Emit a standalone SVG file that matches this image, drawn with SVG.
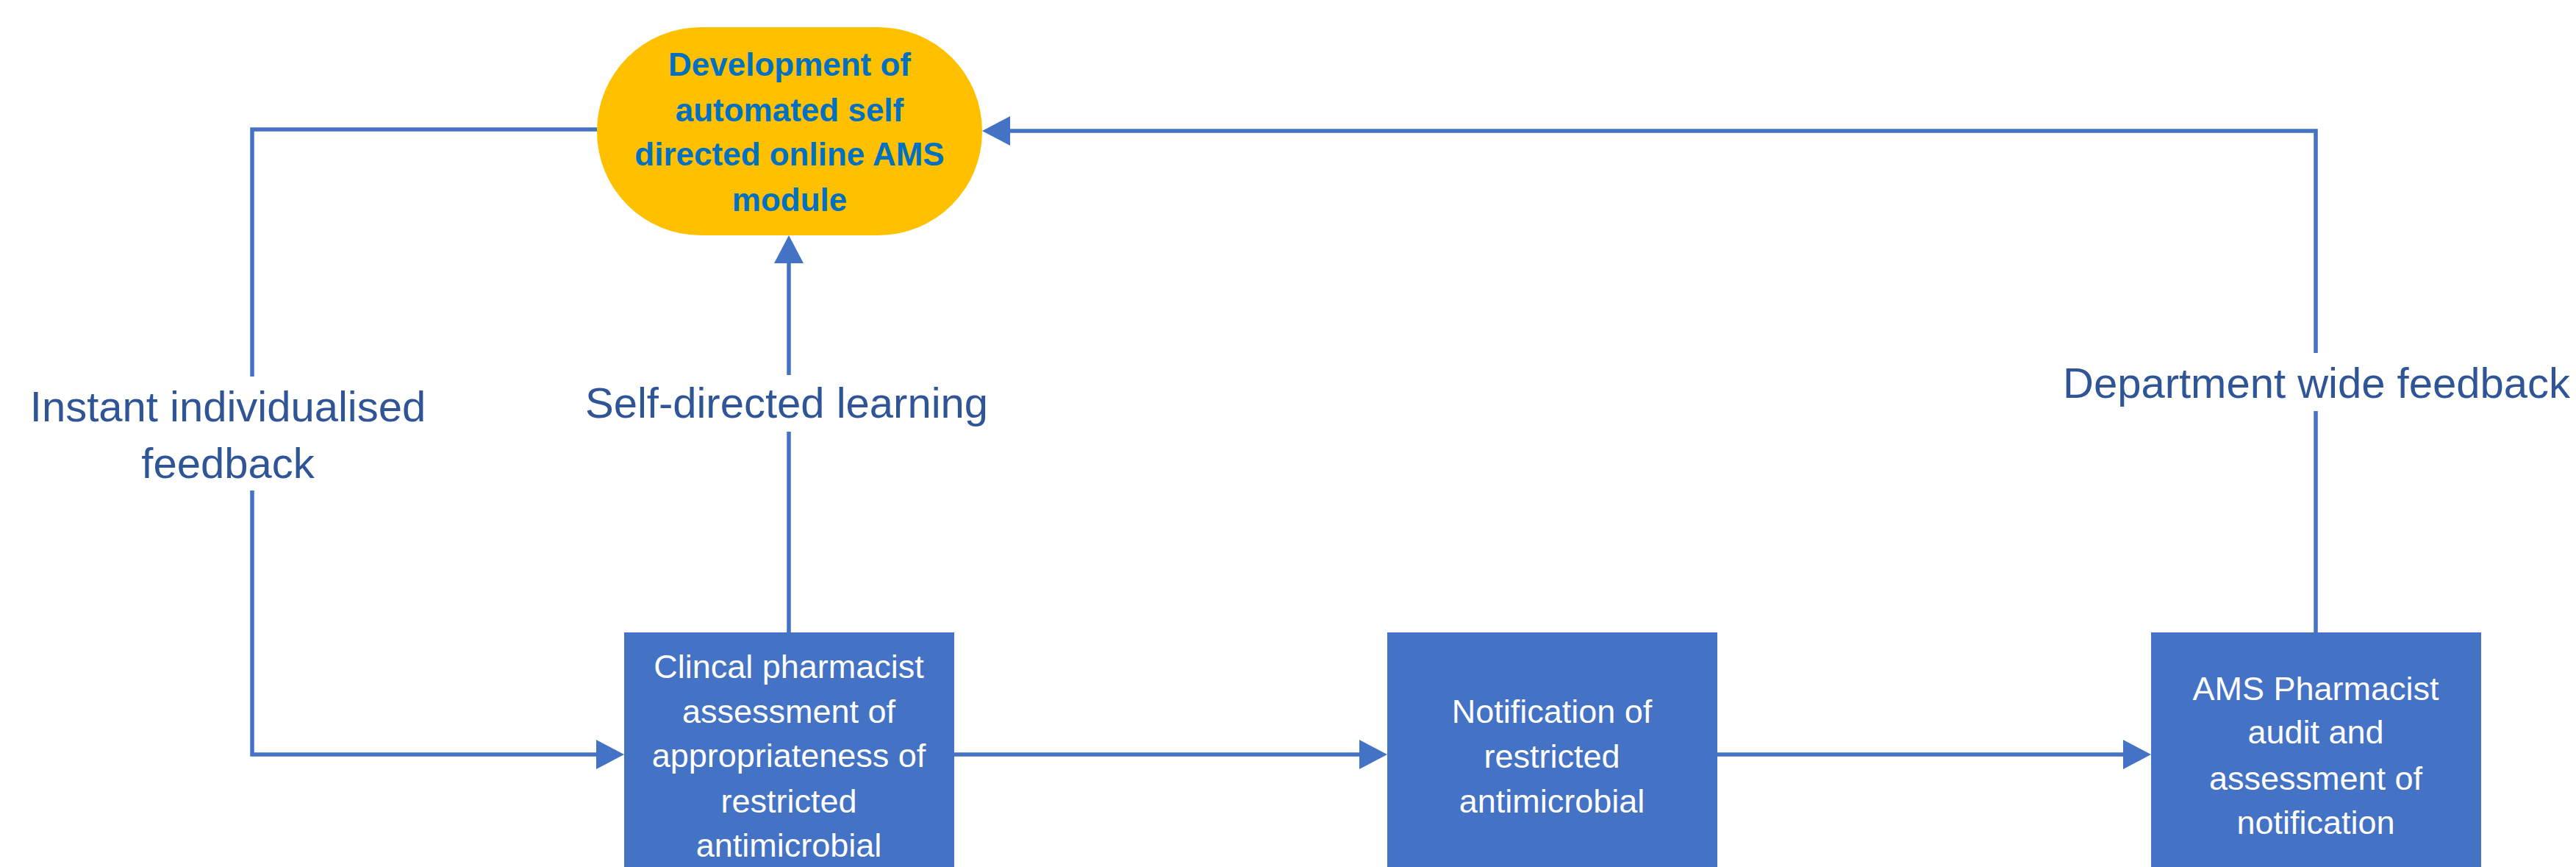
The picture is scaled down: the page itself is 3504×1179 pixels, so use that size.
<svg xmlns="http://www.w3.org/2000/svg" width="3504" height="1179" viewBox="0 0 3504 1179">
<style>
.box{fill:#4472C4}
.pill{fill:#FFC000}
.bt{font-family:"Liberation Sans",Arial,sans-serif;font-size:45px;fill:#FFFFFF;text-anchor:middle}
.pt{font-family:"Liberation Sans",Arial,sans-serif;font-size:44px;font-weight:bold;fill:#0070C0;text-anchor:middle}
.lbl{font-family:"Liberation Sans",Arial,sans-serif;font-size:58px;fill:#2F5597;text-anchor:middle}
.ln{fill:none;stroke:#4472C4;stroke-width:5.5}
</style>
<defs>
<marker id="ah" markerUnits="userSpaceOnUse" markerWidth="40" markerHeight="42" refX="32" refY="20" orient="auto">
<path d="M0,0 L38,20 L0,40 Z" fill="#4472C4"/>
</marker>
</defs>
<rect width="3504" height="1179" fill="#FFFFFF"/>
<g id="connectors">
<path class="ln" d="M812,176 H343 V512"/>
<path class="ln" d="M343,667 V1026 H843" marker-end="url(#ah)"/>
<path class="ln" d="M1073,860 V587"/>
<path class="ln" d="M1073,510 V326" marker-end="url(#ah)"/>
<path class="ln" d="M1298,1026 H1881" marker-end="url(#ah)"/>
<path class="ln" d="M2336,1026 H2920" marker-end="url(#ah)"/>
<path class="ln" d="M3150,860 V559"/>
<path class="ln" d="M3150,480 V178 H1342" marker-end="url(#ah)"/>
<text class="lbl" x="310" y="573">Instant individualised</text>
<text class="lbl" x="310" y="650">feedback</text>
<text class="lbl" x="1070" y="568">Self-directed learning</text>
<text class="lbl" x="3151" y="541">Department wide feedback</text>
</g>
<g id="node-module">
<rect class="pill" x="812" y="37" width="524" height="283" rx="141" ry="141"/>
<text class="pt" x="1074" y="103">Development of</text>
<text class="pt" x="1074" y="165">automated self</text>
<text class="pt" x="1074" y="225">directed online AMS</text>
<text class="pt" x="1074" y="287">module</text>
</g>
<g id="node-clinical">
<rect class="box" x="849" y="860" width="449" height="330"/>
<text class="bt" x="1073" y="922">Clincal pharmacist</text>
<text class="bt" x="1073" y="983">assessment of</text>
<text class="bt" x="1073" y="1043">appropriateness of</text>
<text class="bt" x="1073" y="1105">restricted</text>
<text class="bt" x="1073" y="1165">antimicrobial</text>
</g>
<g id="node-notification">
<rect class="box" x="1887" y="860" width="449" height="330"/>
<text class="bt" x="2111" y="983">Notification of</text>
<text class="bt" x="2111" y="1044">restricted</text>
<text class="bt" x="2111" y="1105">antimicrobial</text>
</g>
<g id="node-audit">
<rect class="box" x="2926" y="860" width="449" height="330"/>
<text class="bt" x="3150" y="952">AMS Pharmacist</text>
<text class="bt" x="3150" y="1011">audit and</text>
<text class="bt" x="3150" y="1074">assessment of</text>
<text class="bt" x="3150" y="1134">notification</text>
</g>
</svg>
